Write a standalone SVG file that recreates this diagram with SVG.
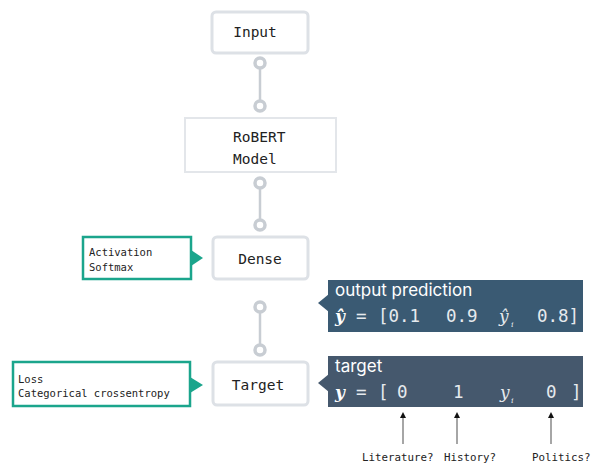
<svg xmlns="http://www.w3.org/2000/svg" width="593" height="463" viewBox="0 0 593 463">
<defs>
<style>
.node{fill:#fff;stroke:#dde1e6;stroke-width:3}
.sq{fill:#fff;stroke:#e3e6ea;stroke-width:2}
.lbl{font-family:"DejaVu Sans Mono","Liberation Mono",monospace;font-size:14.5px;fill:#222}
.note{fill:#fff;stroke:#1ba58c;stroke-width:2.5}
.ntxt{font-family:"DejaVu Sans Mono","Liberation Mono",monospace;font-size:10.5px;fill:#222}
.tri{fill:#1ba58c}
.dot{fill:#fff;stroke:#c8cdd3;stroke-width:3.5}
.ln{stroke:#c8cdd3;stroke-width:2.5}
.hd{font-family:Inter,"Noto Sans",sans-serif;font-size:17px;fill:#fff}
.mono{font-family:"DejaVu Sans Mono","Liberation Mono",monospace;font-size:17.5px;fill:#e6eaee}
.math{font-family:"DejaVu Serif","Liberation Serif",serif;font-style:italic;font-size:17px;fill:#e6eaee}
.mathb{font-family:"DejaVu Serif","Liberation Serif",serif;font-style:italic;font-weight:bold;font-size:17px;fill:#fff}
.sub{font-family:"DejaVu Serif","Liberation Serif",serif;font-style:italic;font-size:8px;fill:#e6eaee}
.arr{stroke:#888;stroke-width:1.5}
.cat{font-family:"DejaVu Sans Mono","Liberation Mono",monospace;font-size:10.8px;fill:#222}
</style>
<marker id="ah" viewBox="0 0 6 6" refX="3" refY="3" markerWidth="4" markerHeight="4" orient="auto">
<path d="M0,0 L6,3 L0,6 z" fill="#111"/>
</marker>
</defs>
<rect width="593" height="463" fill="#fff"/>

<g id="connectors">
<line class="ln" x1="260" y1="63" x2="260" y2="106"/>
<circle class="dot" cx="260" cy="63" r="5"/>
<circle class="dot" cx="260" cy="106" r="5"/>
<line class="ln" x1="260" y1="183" x2="260" y2="225"/>
<circle class="dot" cx="260" cy="183" r="5"/>
<circle class="dot" cx="260" cy="225" r="5"/>
<line class="ln" x1="260" y1="307" x2="260" y2="350"/>
<circle class="dot" cx="260" cy="307" r="5"/>
<circle class="dot" cx="260" cy="350" r="5"/>
<line class="arr" x1="403" y1="444" x2="403" y2="415" marker-end="url(#ah)"/>
<line class="arr" x1="457" y1="444" x2="457" y2="415" marker-end="url(#ah)"/>
<line class="arr" x1="551" y1="444" x2="551" y2="415" marker-end="url(#ah)"/>
</g>

<g id="input">
<rect class="node" x="212" y="12" width="96" height="41" rx="4"/>
<text class="lbl" x="255" y="37" text-anchor="middle">Input</text>
</g>

<g id="robert">
<rect class="sq" x="185" y="118" width="151" height="54"/>
<text class="lbl" x="233" y="142">RoBERT</text>
<text class="lbl" x="233" y="164">Model</text>
</g>

<g id="dense">
<rect class="node" x="213" y="237" width="95" height="42" rx="4"/>
<text class="lbl" x="260" y="264" text-anchor="middle">Dense</text>
</g>

<g id="activation">
<rect class="note" x="83" y="237" width="108" height="42"/>
<polygon class="tri" points="191,250 203,258 191,266"/>
<text class="ntxt" x="89" y="256">Activation</text>
<text class="ntxt" x="89" y="271">Softmax</text>
</g>

<g id="target">
<rect class="node" x="213" y="362" width="95" height="43" rx="4"/>
<text class="lbl" x="258" y="390" text-anchor="middle">Target</text>
</g>

<g id="loss">
<rect class="note" x="13" y="362" width="177" height="44"/>
<polygon class="tri" points="190,377 203,385 190,393"/>
<text class="ntxt" x="18" y="383">Loss</text>
<text class="ntxt" x="18" y="397">Categorical crossentropy</text>
</g>

<g id="prediction">
<rect x="328" y="280" width="255" height="52" fill="#3a5a73"/>
<polygon points="329,294 318,303 329,312" fill="#3a5a73"/>
<text class="hd" x="335" y="296">output prediction</text>
<text class="mathb" x="335" y="322">ŷ</text>
<text class="mono" x="356" y="322">=</text>
<text class="mono" x="378" y="322">[0.1</text>
<text class="mono" x="446" y="322">0.9</text>
<text class="math" x="499" y="322">ŷ</text>
<text class="sub" x="511" y="327">i</text>
<text class="mono" x="537" y="322">0.8]</text>
</g>

<g id="targetvec">
<rect x="328" y="356" width="255" height="51" fill="#45586d"/>
<polygon points="329,374 318,383 329,392" fill="#45586d"/>
<text class="hd" x="335" y="372">target</text>
<text class="mathb" x="335" y="398">y</text>
<text class="mono" x="356" y="398">=</text>
<text class="mono" x="378" y="398">[</text>
<text class="mono" x="397" y="398">0</text>
<text class="mono" x="453" y="398">1</text>
<text class="math" x="500" y="398">y</text>
<text class="sub" x="511" y="403">i</text>
<text class="mono" x="546" y="398">0</text>
<text class="mono" x="571" y="398">]</text>
</g>

<g id="labels">
<text class="cat" x="362" y="461">Literature?</text>
<text class="cat" x="444" y="461">History?</text>
<text class="cat" x="532" y="461">Politics?</text>
</g>
</svg>
